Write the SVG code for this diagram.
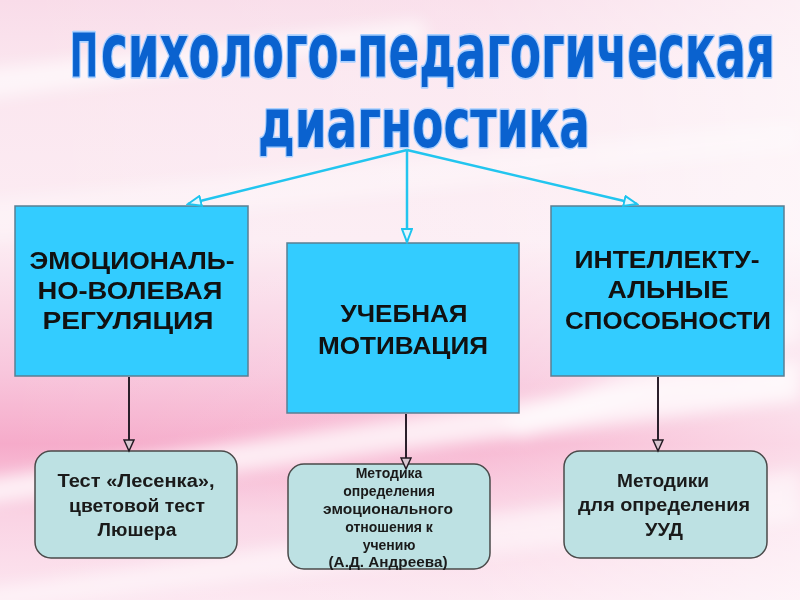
<svg xmlns="http://www.w3.org/2000/svg" width="800" height="600" viewBox="0 0 800 600">
<defs>
<linearGradient id="bgv" x1="0" y1="0" x2="0" y2="1">
<stop offset="0" stop-color="#f9dce9"/>
<stop offset="0.12" stop-color="#fbe6ef"/>
<stop offset="0.4" stop-color="#fcecf3"/>
<stop offset="0.62" stop-color="#f8c6dc"/>
<stop offset="0.74" stop-color="#f6abca"/>
<stop offset="0.86" stop-color="#fad3e4"/>
<stop offset="1" stop-color="#fce6f0"/>
</linearGradient>
<linearGradient id="bgh" x1="0" y1="0" x2="1" y2="0">
<stop offset="0" stop-color="#ffffff" stop-opacity="0"/>
<stop offset="0.6" stop-color="#ffffff" stop-opacity="0.15"/>
<stop offset="1" stop-color="#ffffff" stop-opacity="0.55"/>
</linearGradient>
<filter id="blur" x="-20%" y="-50%" width="140%" height="200%">
<feGaussianBlur stdDeviation="8"/>
</filter>
<marker id="blueArrow" markerUnits="userSpaceOnUse" markerWidth="16" markerHeight="12" refX="14" refY="6" orient="auto">
<path d="M1,1 L14,6 L1,11 Z" fill="#e3f7ff" stroke="#1ec4ef" stroke-width="2"/>
</marker>
<marker id="blackArrow" markerUnits="userSpaceOnUse" markerWidth="14" markerHeight="12" refX="12" refY="6" orient="auto">
<path d="M1,1 L12,6 L1,11 Z" fill="#d8c6d0" stroke="#221a22" stroke-width="1.5"/>
</marker>
<style>
.title{font-family:"DejaVu Sans","Liberation Sans",sans-serif;font-weight:bold;font-stretch:condensed;fill:#0a62cf;stroke:#a9d0ff;stroke-width:2.2;paint-order:stroke;stroke-linejoin:round}
.box{fill:#33ccff;stroke:#5a7f93;stroke-width:1.5}
.sub{fill:#bde1e3;stroke:#4a4a4a;stroke-width:1.5}
.bt{font-family:"Liberation Sans",Arial,sans-serif;font-weight:bold;font-size:24px;fill:#111;text-anchor:middle}
.st{font-family:"Liberation Sans",Arial,sans-serif;font-weight:bold;font-size:18px;fill:#1a1a1a;text-anchor:middle}
.mt{font-family:"Liberation Sans",Arial,sans-serif;font-weight:bold;font-size:14px;fill:#1a1a1a;text-anchor:middle}
.blue{stroke:#22c5ef;stroke-width:2.5;fill:none;marker-end:url(#blueArrow)}
.black{stroke:#2b1f2b;stroke-width:2;fill:none;marker-end:url(#blackArrow)}
</style>
</defs>

<g id="background">
<rect x="0" y="0" width="800" height="600" fill="url(#bgv)"/>
<rect x="0" y="0" width="800" height="600" fill="url(#bgh)"/>
<g filter="url(#blur)" fill="#ffffff">
<polygon points="-20,70 420,20 430,40 -20,100" opacity="0.6"/>
<polygon points="-20,200 800,120 800,150 -20,240" opacity="0.35"/>
<polygon points="-20,480 800,360 800,400 -20,505" opacity="0.75"/>
<polygon points="-20,590 800,470 800,520 -20,610" opacity="0.5"/>
<polygon points="500,420 800,300 800,340 520,440" opacity="0.5"/>
</g>
</g>

<g id="title">
<text class="title" transform="translate(70,77) scale(1,1.58)" x="0" y="0" font-size="38" textLength="28" lengthAdjust="spacingAndGlyphs">П</text>
<text class="title" transform="translate(101,77) scale(1,1.48)" x="0" y="0" font-size="50" textLength="674" lengthAdjust="spacingAndGlyphs">сихолого-педагогическая</text>
<text class="title" transform="translate(258,147) scale(1,1.36)" x="0" y="0" font-size="50" textLength="332" lengthAdjust="spacingAndGlyphs">диагностика</text>
</g>

<g id="node-emotional">
<rect class="box" x="15" y="206" width="233" height="170"/>
<text class="bt" x="132" y="269" textLength="205" lengthAdjust="spacingAndGlyphs">ЭМОЦИОНАЛЬ-</text>
<text class="bt" x="130" y="299" textLength="185" lengthAdjust="spacingAndGlyphs">НО-ВОЛЕВАЯ</text>
<text class="bt" x="128" y="329" textLength="171" lengthAdjust="spacingAndGlyphs">РЕГУЛЯЦИЯ</text>
</g>

<g id="node-motivation">
<rect class="box" x="287" y="243" width="232" height="170"/>
<text class="bt" x="404" y="322" textLength="127" lengthAdjust="spacingAndGlyphs">УЧЕБНАЯ</text>
<text class="bt" x="403" y="354" textLength="170" lengthAdjust="spacingAndGlyphs">МОТИВАЦИЯ</text>
</g>

<g id="node-intellect">
<rect class="box" x="551" y="206" width="233" height="170"/>
<text class="bt" x="667" y="268" textLength="185" lengthAdjust="spacingAndGlyphs">ИНТЕЛЛЕКТУ-</text>
<text class="bt" x="668" y="298" textLength="121" lengthAdjust="spacingAndGlyphs">АЛЬНЫЕ</text>
<text class="bt" x="668" y="329" textLength="206" lengthAdjust="spacingAndGlyphs">СПОСОБНОСТИ</text>
</g>

<g id="node-lesenka">
<rect class="sub" x="35" y="451" width="202" height="107" rx="16" ry="16"/>
<text class="st" x="136" y="487" textLength="157" lengthAdjust="spacingAndGlyphs">Тест «Лесенка»,</text>
<text class="st" x="137" y="512" textLength="136" lengthAdjust="spacingAndGlyphs">цветовой тест</text>
<text class="st" x="137" y="536" textLength="79" lengthAdjust="spacingAndGlyphs">Люшера</text>
</g>

<g id="node-andreeva">
<rect class="sub" x="288" y="464" width="202" height="105" rx="16" ry="16"/>
<text class="mt" x="389" y="478">Методика</text>
<text class="mt" x="389" y="496">определения</text>
<text class="mt" x="388" y="514" textLength="130" lengthAdjust="spacingAndGlyphs">эмоционального</text>
<text class="mt" x="389" y="532">отношения к</text>
<text class="mt" x="389" y="550">учению</text>
<text class="mt" x="388" y="567" textLength="119" lengthAdjust="spacingAndGlyphs">(А.Д. Андреева)</text>
</g>

<g id="node-uud">
<rect class="sub" x="564" y="451" width="203" height="107" rx="16" ry="16"/>
<text class="st" x="663" y="487" textLength="92" lengthAdjust="spacingAndGlyphs">Методики</text>
<text class="st" x="664" y="511" textLength="172" lengthAdjust="spacingAndGlyphs">для определения</text>
<text class="st" x="664" y="536" textLength="38" lengthAdjust="spacingAndGlyphs">УУД</text>
</g>

<g id="connectors">
<line class="blue" x1="407" y1="150" x2="188" y2="204"/>
<line class="blue" x1="407" y1="150" x2="407" y2="242"/>
<line class="blue" x1="407" y1="150" x2="637" y2="204"/>
<line class="black" x1="129" y1="377" x2="129" y2="451"/>
<line class="black" x1="406" y1="414" x2="406" y2="469"/>
<line class="black" x1="658" y1="377" x2="658" y2="451"/>
</g>
</svg>
